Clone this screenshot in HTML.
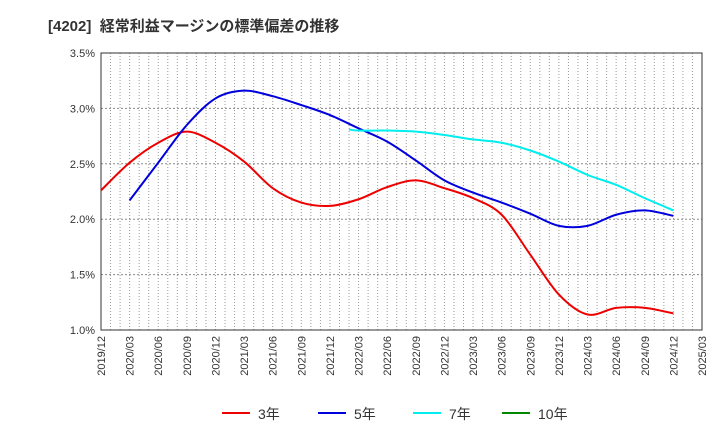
<!DOCTYPE html>
<html><head><meta charset="utf-8"><style>
body{margin:0;background:#fff;}
svg{font-family:"Liberation Sans","Noto Sans CJK JP",sans-serif;}
</style></head><body>
<svg width="720" height="440">
<text x="48" y="31" font-size="15" font-weight="bold" fill="#333">[4202]&#160;&#160;経常利益マージンの標準偏差の推移</text>
<g id="grid"></g>
<g id="axes"></g>
<g id="series"></g>
<g id="legend"></g>
</svg>
<script>
const tickLabels=["2019/12","2020/03","2020/06","2020/09","2020/12","2021/03","2021/06","2021/09","2021/12","2022/03","2022/06","2022/09","2022/12","2023/03","2023/06","2023/09","2023/12","2024/03","2024/06","2024/09","2024/12","2025/03"];
const yTicks=[1.0,1.5,2.0,2.5,3.0,3.5];
// month index from 2019/12
const m3=[0,3,6,9,12,15,18,21,24,27,30,33,36,39,42,45,48,51,54,57,60];
const v3=[2.26,2.51,2.69,2.79,2.69,2.52,2.28,2.15,2.12,2.18,2.29,2.35,2.28,2.19,2.04,1.68,1.32,1.14,1.20,1.20,1.15];
const m5=[3,6,9,12,15,18,21,24,27,30,33,36,39,42,45,48,51,54,57,60];
const v5=[2.17,2.51,2.85,3.09,3.16,3.11,3.03,2.94,2.82,2.70,2.53,2.35,2.24,2.15,2.05,1.94,1.94,2.04,2.08,2.03];
const m7=[26,27,30,33,36,39,42,45,48,51,54,57,60];
const v7=[2.81,2.80,2.80,2.79,2.76,2.72,2.69,2.62,2.52,2.40,2.31,2.19,2.08];
const L=101,R=702,T=53,B=330;
const x=m=>L+m*(R-L)/63;
const y=v=>B-(v-1)*(B-T)/2.5;
const NS="http://www.w3.org/2000/svg";
function mk(t,a,p){const e=document.createElementNS(NS,t);for(const k in a)e.setAttribute(k,a[k]);p.appendChild(e);return e;}
const grid=document.getElementById('grid'),axes=document.getElementById('axes'),ser=document.getElementById('series'),leg=document.getElementById('legend');
for(let m=1;m<63;m++){const l=mk('line',{x1:x(m),x2:x(m),y1:T,y2:B,stroke:'#999','stroke-dasharray':'1,2','stroke-width':1},grid);

}
yTicks.forEach(v=>{const l=mk('line',{x1:L,x2:R,y1:y(v),y2:y(v),stroke:'#888','stroke-dasharray':'2,2'},grid);


const t=mk('text',{x:L-6,y:y(v)+4,'text-anchor':'end','font-size':11,fill:'#333'},axes);t.textContent=v.toFixed(1)+'%';

});
const fr=mk('rect',{x:L,y:T,width:R-L,height:B-T,fill:'none',stroke:'#333'},axes);


tickLabels.forEach((s,i)=>{const xx=x(i*3)+4;const t=mk('text',{x:xx,y:B+6,'text-anchor':'end','font-size':11,fill:'#333',transform:`rotate(-90 ${xx} ${B+6})`},axes);t.textContent=s;

});
function path(ms,vs){const P=ms.map((m,i)=>[x(m),y(vs[i])]);let d='M'+P[0][0]+','+P[0][1];
for(let i=0;i<P.length-1;i++){const p0=P[i-1]||P[i],p1=P[i],p2=P[i+1],p3=P[i+2]||P[i+1];
d+=` C${p1[0]+(p2[0]-p0[0])/6},${p1[1]+(p2[1]-p0[1])/6} ${p2[0]-(p3[0]-p1[0])/6},${p2[1]-(p3[1]-p1[1])/6} ${p2[0]},${p2[1]}`;}return d;}
[[m3,v3,'#ee0000','series-3y'],[m5,v5,'#0000dd','series-5y'],[m7,v7,'#00eeee','series-7y']].forEach(s=>{
const p=mk('path',{d:path(s[0],s[1]),fill:'none',stroke:s[2],'stroke-width':2},ser);

});
[['3年','#ee0000',222],['5年','#0000dd',318],['7年','#00eeee',413],['10年','#008800',502]].forEach(e=>{
const g=mk('g',{},leg);


mk('line',{x1:e[2],x2:e[2]+28,y1:413,y2:413,stroke:e[1],'stroke-width':2},g);
const t=mk('text',{x:e[2]+36,y:419,'font-size':14,fill:'#333'},g);t.textContent=e[0];});
</script>
</body></html>
